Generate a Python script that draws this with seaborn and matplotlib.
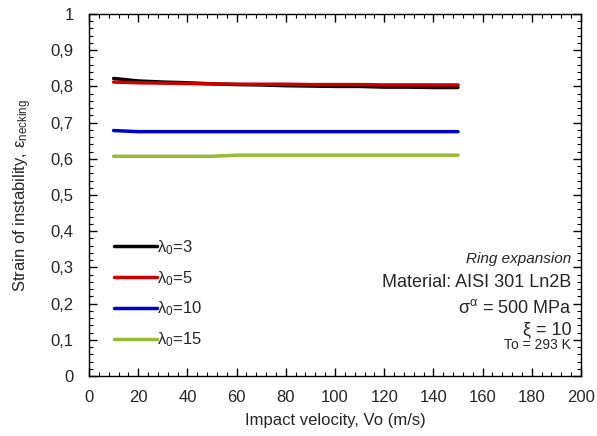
import matplotlib
matplotlib.use("Agg")
import matplotlib.pyplot as plt
import matplotlib.ticker as mticker
import numpy as np
import pandas as pd
import seaborn as sns

velocity = [10, 20, 30, 40, 50, 60, 70, 80, 90, 100, 110, 120, 130, 140, 150]
eps_l3 = [0.822, 0.815, 0.812, 0.810, 0.807, 0.805, 0.804, 0.802, 0.801, 0.800,
          0.800, 0.798, 0.798, 0.797, 0.797]
eps_l5 = [0.812, 0.810, 0.809, 0.808, 0.807, 0.806, 0.806, 0.806, 0.805, 0.805,
          0.805, 0.804, 0.804, 0.804, 0.804]
eps_l10 = [0.678, 0.675, 0.675, 0.675, 0.675, 0.675, 0.675, 0.675, 0.675, 0.675,
           0.675, 0.675, 0.675, 0.675, 0.675]
eps_l15 = [0.607, 0.607, 0.607, 0.607, 0.607, 0.610, 0.610, 0.610, 0.610, 0.610,
           0.610, 0.610, 0.610, 0.610, 0.610]
lambdas = ["3", "5", "10", "15"]
colors = ["#000000", "#cc0000", "#0000cc", "#99bb33"]

df = pd.DataFrame({
    "v": velocity * 4,
    "eps": eps_l3 + eps_l5 + eps_l10 + eps_l15,
    "lam": np.repeat(lambdas, len(velocity)),
})

sns.set_style("ticks")
plt.rcParams["font.family"] = ["Liberation Sans", "DejaVu Sans"]
plt.rcParams["mathtext.fontset"] = "custom"
plt.rcParams["mathtext.rm"] = "Liberation Sans"
plt.rcParams["mathtext.it"] = "Liberation Sans:italic"

fig = plt.figure(figsize=(5.97, 4.36), dpi=100)
ax = fig.add_axes([89 / 597, 60 / 436, 492 / 597, 362 / 436])

sns.lineplot(data=df, x="v", y="eps", hue="lam", palette=colors, linewidth=2.5,
             ax=ax, legend=False)

ax.set_xlim(0, 200)
ax.set_ylim(0, 1)
ax.xaxis.set_major_locator(mticker.MultipleLocator(20))
ax.xaxis.set_minor_locator(mticker.MultipleLocator(4))
ax.yaxis.set_major_locator(mticker.MultipleLocator(0.1))
ax.yaxis.set_minor_locator(mticker.MultipleLocator(0.02))
ax.yaxis.set_major_formatter(mticker.FuncFormatter(
    lambda v, p: "0" if abs(v) < 1e-9 else ("1" if abs(v - 1) < 1e-9 else f"{v:.1f}".replace(".", ","))))
ax.tick_params(which="both", direction="in", top=True, right=True, labelsize=12, color="black")
ax.tick_params(which="major", length=6, width=1)
ax.tick_params(which="minor", length=3, width=0.8)
ax.tick_params(axis="y", which="major", pad=11)
ax.tick_params(axis="x", which="major", pad=10)
for s in ax.spines.values():
    s.set_linewidth(1)
    s.set_color("black")

ax.set_xlabel("Impact velocity, Vo (m/s)", fontsize=12, labelpad=6)
ax.set_ylabel("Strain of instability, ε$_{\\mathrm{necking}}$", fontsize=12, labelpad=12)

handles = [plt.Line2D([], [], color=c, lw=2.5) for c in colors]
ax.legend(handles, ["λ$_{\\mathrm{0}}$=" + l for l in lambdas], loc="lower left",
          bbox_to_anchor=(0.037, 0.056), frameon=False, fontsize=12,
          handlelength=2.6, handletextpad=0.0, labelspacing=0.72, borderaxespad=0)

tx = 0.98
ax.text(tx, 0.322, "Ring expansion", transform=ax.transAxes, ha="right", va="center",
        fontsize=11, style="italic")
ax.text(tx, 0.258, "Material: AISI 301 Ln2B", transform=ax.transAxes, ha="right",
        va="center", fontsize=13)
ax.text(tx, 0.188, "σ$^{\\mathrm{α}}$ = 500 MPa", transform=ax.transAxes, ha="right",
        va="center", fontsize=13)
ax.text(tx, 0.128, "ξ = 10", transform=ax.transAxes, ha="right", va="center",
        fontsize=13)
ax.text(tx, 0.086, "To = 293 K", transform=ax.transAxes, ha="right", va="center",
        fontsize=10)

fig.savefig("out.png", dpi=100)
